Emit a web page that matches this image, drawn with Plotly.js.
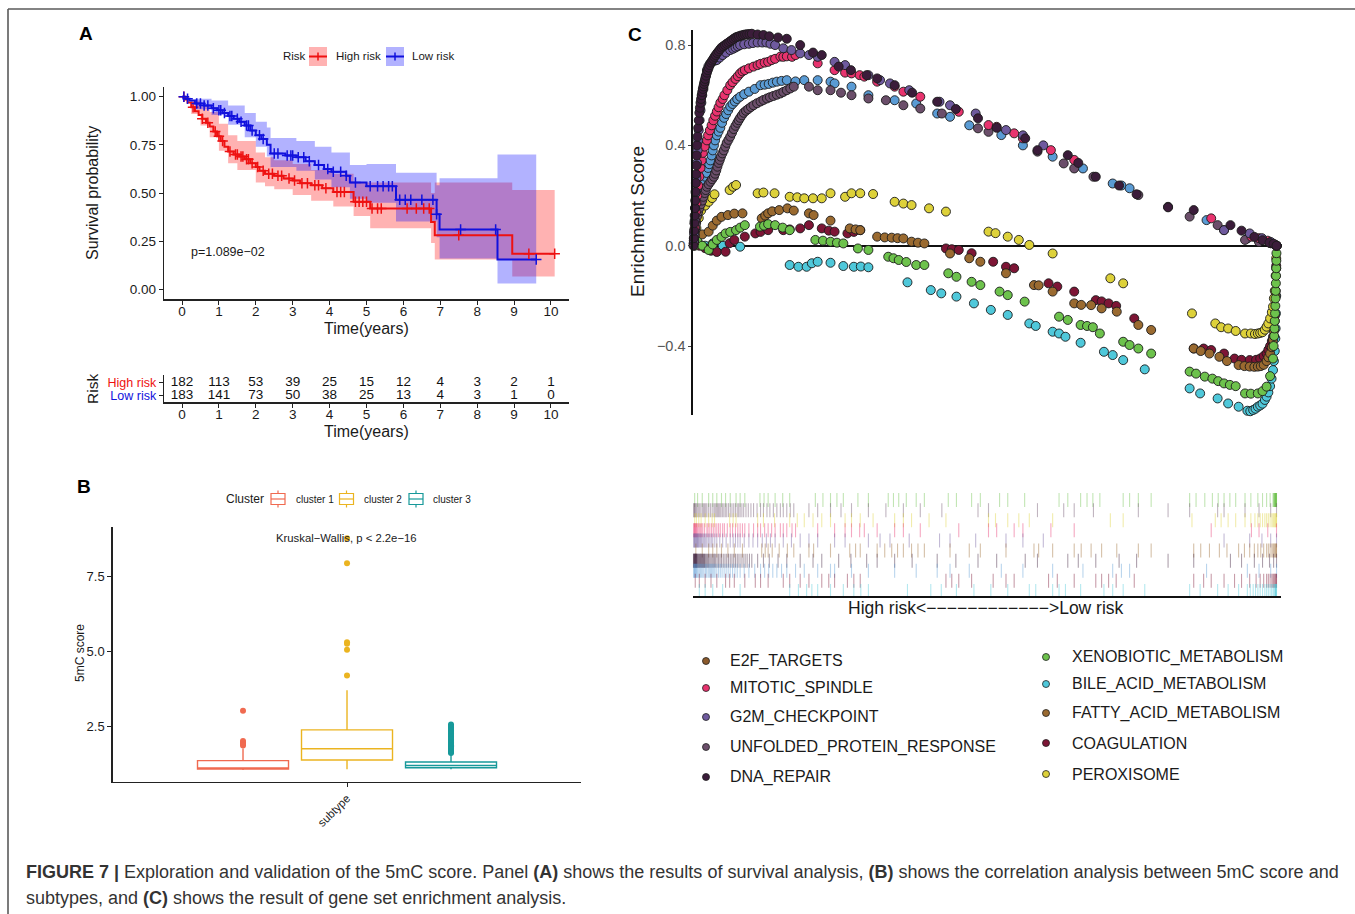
<!DOCTYPE html>
<html>
<head>
<meta charset="utf-8">
<script src="https://cdn.plot.ly/plotly-3.0.1.min.js"></script>
<style>
html,body{margin:0;padding:0;background:#ffffff;}
#chart{width:1355px;height:914px;}
</style>
</head>
<body>
<div id="chart"></div>
<script>
// ===================== DATA =====================
// ---- Panel A : Kaplan-Meier (step change points) ----
const highTime = [0,0.08,0.15,0.25,0.35,0.45,0.55,0.65,0.75,0.85,0.95,1.05,1.15,1.25,1.4,1.55,1.7,1.85,2.0,2.1,2.25,2.5,2.75,3.0,3.2,3.5,3.8,4.1,4.65,5.1,6.75,6.85,8.95];
const highSurv = [1.0,0.985,0.97,0.945,0.925,0.905,0.885,0.865,0.845,0.82,0.795,0.77,0.74,0.715,0.70,0.69,0.675,0.655,0.635,0.615,0.60,0.59,0.575,0.565,0.55,0.54,0.525,0.505,0.455,0.42,0.35,0.28,0.185];
const highEnd = 10.1;
const highCiTime  = [0,0.25,0.5,0.75,1.0,1.25,1.5,2.0,2.25,2.5,3.0,3.5,4.1,4.65,5.1,6.75,6.85,8.95];
const highCiLower = [1.0,0.91,0.85,0.79,0.72,0.655,0.62,0.555,0.535,0.52,0.49,0.46,0.43,0.38,0.317,0.24,0.155,0.066];
const highCiUpper = [1.0,0.98,0.95,0.92,0.86,0.80,0.77,0.71,0.685,0.67,0.65,0.62,0.60,0.555,0.555,0.50,0.555,0.515];
const highCensor = [0.05,0.3,0.55,0.7,0.9,1.0,1.1,1.3,1.45,1.5,1.6,1.65,1.75,1.8,1.9,2.05,2.2,2.35,2.45,2.6,2.7,2.9,3.05,3.25,3.4,3.6,3.7,3.9,4.2,4.3,4.4,4.7,4.8,4.9,5.0,5.15,5.3,5.4,6.1,6.35,6.55,6.7,7.5,9.4,10.1];

const lowTime = [0,0.1,0.2,0.35,0.6,0.8,0.95,1.1,1.25,1.4,1.55,1.7,1.85,2.0,2.15,2.3,2.4,2.8,3.1,3.35,3.6,3.85,4.05,4.45,4.55,5.0,5.8,6.9,6.98,8.55];
const lowSurv = [1.0,0.99,0.98,0.965,0.955,0.94,0.93,0.915,0.90,0.885,0.87,0.85,0.825,0.80,0.78,0.75,0.705,0.695,0.685,0.665,0.645,0.625,0.61,0.59,0.555,0.535,0.465,0.39,0.31,0.155];
const lowEnd = 9.6;
const lowCiTime  = [0,0.35,0.8,1.25,1.7,2.0,2.3,2.4,3.1,3.6,4.05,4.55,5.0,5.8,6.9,6.98,8.55];
const lowCiLower = [1.0,0.935,0.905,0.855,0.79,0.74,0.69,0.635,0.615,0.57,0.53,0.47,0.45,0.352,0.27,0.16,0.03];
const lowCiUpper = [1.0,0.99,0.98,0.955,0.915,0.87,0.84,0.785,0.77,0.74,0.71,0.645,0.65,0.605,0.54,0.576,0.70];
const lowCensor = [0.05,0.15,0.4,0.5,0.6,0.7,0.85,1.0,1.05,1.15,1.3,1.35,1.5,1.6,1.75,1.8,1.9,2.1,2.2,2.5,2.6,2.85,2.95,3.0,3.15,3.3,3.45,3.7,3.95,4.1,4.3,4.45,4.7,5.1,5.3,5.45,5.6,5.7,5.9,6.05,6.2,6.5,6.8,6.9,7.55,8.5,9.6];
const pValueText = "p=1.089e\u221202";

// ---- Panel A : risk table ----
const riskTimes = [0,1,2,3,4,5,6,7,8,9,10];
const highAtRisk = [182,113,53,39,25,15,12,4,3,2,1];
const lowAtRisk  = [183,141,73,50,38,25,13,4,3,1,0];
const timeTicks = [0,1,2,3,4,5,6,7,8,9,10];

// ---- Panel B : 5mC score by cluster ----
const clusterNames = ["cluster 1","cluster 2","cluster 3"];
const boxLower  = [1.03, 1.05, 1.05];
const boxQ1     = [1.06, 1.36, 1.105];
const boxMedian = [1.10, 1.74, 1.18];
const boxQ3     = [1.34, 2.37, 1.295];
const boxUpper  = [1.75, 3.70, 1.585];
const outliers1 = [3.01, 2.0, 1.95, 1.9, 1.85];
const outliers2 = [8.78, 7.95, 5.3, 5.25, 5.05, 4.19];
const outliers3 = [1.6,1.63,1.66,1.7,1.74,1.78,1.82,1.86,1.9,1.95,2.0,2.05,2.1,2.15,2.2,2.25,2.3,2.35,2.4,2.45,2.5,2.55];
const kwText = "Kruskal\u2212Wallis, p < 2.2e\u221216";

// ---- Panel C : GSEA running enrichment scores (rank in % of gene list) ----
const dnaRank = [0,0.05,0.1,0.15,0.2,0.25,0.3,0.35,0.4,0.45,0.5,0.55,0.6,0.7,0.8,0.9,1.0,1.1,1.2,1.3,1.4,1.5,1.6,1.7,1.8,1.9,2.0,2.15,2.3,2.45,2.6,2.8,3.0,3.2,3.4,3.6,3.8,4.05,4.3,4.55,4.8,5.1,5.4,5.7,6.0,6.3,6.6,6.9,7.2,7.5,7.8,8.15,8.5,8.85,9.2,9.6,10,11,12,13,14.5,16,18.3,20.5,22,24.9,27,29.7,31.5,34.5,37.5,41.8,45,48.8,52,56.9,59,64.2,66,69,73,76,81.4,85.8,92.1,94,96.2,97.6,98.8,99.5,100];
const dnaES   = [0,0.03,0.06,0.09,0.12,0.15,0.18,0.215,0.25,0.285,0.32,0.36,0.40,0.435,0.47,0.50,0.53,0.55,0.57,0.585,0.60,0.613,0.625,0.635,0.645,0.655,0.665,0.678,0.69,0.70,0.71,0.72,0.73,0.738,0.745,0.753,0.76,0.768,0.775,0.783,0.79,0.795,0.80,0.805,0.81,0.815,0.82,0.825,0.83,0.833,0.835,0.838,0.84,0.842,0.843,0.844,0.845,0.842,0.84,0.835,0.83,0.825,0.80,0.77,0.76,0.714,0.70,0.68,0.667,0.64,0.61,0.574,0.545,0.508,0.47,0.428,0.381,0.361,0.33,0.275,0.24,0.205,0.153,0.142,0.082,0.06,0.035,0.022,0.012,0.008,0];

const mitRank = [0.05,0.1,0.2,0.3,0.4,0.5,0.65,0.8,1.0,1.2,1.4,1.6,1.9,2.3,2.5,2.8,3.1,3.4,3.7,4.0,4.3,4.6,5.0,5.3,5.8,6.3,6.7,7.2,7.6,8.0,8.4,8.8,9.5,10.3,11.0,11.5,12.2,12.8,13.4,14.0,14.9,15.4,16.0,16.9,17.5,21.3,24.2,26.0,27.1,28.5,29.3,31.5,34.5,36,38.9,45.5,50.6,52.0,55,56.5,61.3,65.3,88.8,95.7,97,98.5,100];
const mitES   = [0.01,0.03,0.07,0.10,0.135,0.17,0.20,0.24,0.275,0.31,0.34,0.37,0.395,0.42,0.44,0.46,0.48,0.50,0.518,0.535,0.552,0.57,0.585,0.60,0.62,0.64,0.652,0.665,0.676,0.687,0.695,0.70,0.707,0.714,0.72,0.725,0.73,0.733,0.74,0.745,0.754,0.753,0.755,0.753,0.76,0.727,0.70,0.69,0.687,0.68,0.674,0.654,0.634,0.614,0.594,0.534,0.481,0.474,0.448,0.428,0.381,0.342,0.109,0.036,0.03,0.02,0];

const g2mRank = [0.05,0.1,0.2,0.3,0.4,0.5,0.6,0.7,0.8,0.9,1.05,1.2,1.35,1.5,1.7,1.9,2.1,2.3,2.55,2.8,3.05,3.3,3.65,4.0,4.5,5.0,5.6,6.3,6.8,7.2,7.6,8.0,8.7,9.5,10.2,11,11.8,12.5,13.2,14,15.4,16.8,18.3,19.8,21.3,24.2,26,30,32,33.7,37,42.2,44,48.4,53.6,56.5,60,91,95.4,97.5,99,100];
const g2mES   = [0.02,0.05,0.10,0.15,0.21,0.27,0.33,0.38,0.42,0.46,0.50,0.54,0.57,0.60,0.625,0.65,0.675,0.70,0.715,0.725,0.73,0.735,0.738,0.74,0.75,0.76,0.77,0.78,0.785,0.79,0.795,0.80,0.803,0.805,0.808,0.81,0.81,0.81,0.805,0.80,0.787,0.78,0.767,0.76,0.753,0.733,0.72,0.68,0.66,0.647,0.62,0.574,0.56,0.527,0.461,0.44,0.40,0.062,0.049,0.03,0.015,0];

const uprRank = [0.05,0.1,0.2,0.3,0.45,0.6,0.8,1.0,1.25,1.5,1.7,1.9,2.1,2.3,2.6,2.9,3.2,3.5,3.7,3.9,4.1,4.3,4.5,4.7,4.95,5.2,5.45,5.7,6.0,6.3,6.6,6.9,7.2,7.5,7.75,8.0,8.3,8.6,9.0,9.4,9.85,10.3,10.9,11.5,12.0,12.6,13.1,13.7,14.3,14.9,15.4,16.0,16.6,17.2,19.8,21.3,23.5,25.3,27.1,30,33,36,38.9,42.6,48.8,50.6,59,63.5,65.3,68.6,76.3,81.4,85.1,89.9,91,94.6,97,99,100];
const uprES   = [0.01,0.02,0.04,0.06,0.09,0.116,0.135,0.15,0.165,0.18,0.195,0.21,0.222,0.235,0.245,0.255,0.265,0.275,0.287,0.30,0.315,0.33,0.342,0.355,0.368,0.38,0.395,0.41,0.422,0.435,0.45,0.465,0.478,0.49,0.50,0.51,0.52,0.53,0.538,0.545,0.553,0.56,0.568,0.575,0.581,0.587,0.592,0.597,0.602,0.607,0.613,0.62,0.627,0.634,0.634,0.62,0.62,0.61,0.60,0.587,0.58,0.56,0.547,0.527,0.468,0.454,0.375,0.328,0.308,0.275,0.202,0.155,0.116,0.082,0.062,0.023,0.015,0.01,0];

const e2fRank = [0.05,0.1,0.2,0.3,0.4,0.5,0.65,0.8,1.0,1.2,1.4,1.6,1.8,2.05,2.25,2.5,2.7,2.9,3.1,3.3,3.5,3.7,4.0,4.3,4.6,4.9,5.25,5.6,5.95,6.3,6.7,7.1,7.5,8.0,8.7,9.5,10.5,11.5,12.2,12.9,13.6,14.3,15.1,16.0,17.5,19,21.3,23.5,24.2,27.1,30,34.5,38.2,41.8,44,47.3,52.8,56.5,61.6,66.8,71.9,73.4,74.8,88,95,97,99,100];
const e2fES   = [0.01,0.02,0.045,0.07,0.095,0.12,0.145,0.17,0.185,0.195,0.215,0.24,0.26,0.275,0.29,0.31,0.325,0.34,0.36,0.38,0.40,0.42,0.44,0.455,0.47,0.49,0.51,0.525,0.54,0.555,0.565,0.575,0.585,0.594,0.604,0.614,0.625,0.64,0.642,0.645,0.65,0.654,0.657,0.66,0.655,0.66,0.66,0.654,0.647,0.634,0.60,0.58,0.567,0.527,0.514,0.48,0.441,0.40,0.355,0.308,0.248,0.24,0.229,0.102,0.029,0.02,0.01,0];

const perRank = [0.2,0.5,0.9,1.3,2.0,2.6,3.2,3.6,6.2,6.8,7.3,11,12,13.9,16.5,17.8,19,20.5,22,23.5,26,27.1,28.6,30.8,34.5,36,37.4,40.4,43.3,50.6,51.8,53.9,55.8,57.6,61.6,71.5,73.7,85.5,89.5,90.5,91.7,93,94.6,95.6,96.3,96.8,97.2,97.6,98.0,98.3,98.6,98.9,99.2,99.4,99.55,99.7,99.85,99.95,100];
const perES   = [0.03,0.07,0.11,0.14,0.16,0.175,0.19,0.205,0.222,0.235,0.242,0.209,0.212,0.209,0.195,0.193,0.189,0.189,0.189,0.209,0.195,0.209,0.209,0.206,0.175,0.168,0.162,0.149,0.136,0.056,0.05,0.036,0.023,0.003,-0.031,-0.13,-0.15,-0.27,-0.31,-0.325,-0.33,-0.34,-0.35,-0.35,-0.352,-0.35,-0.348,-0.345,-0.335,-0.323,-0.31,-0.29,-0.265,-0.243,-0.21,-0.18,-0.12,-0.05,0];

const coaRank = [0.3,1.0,2.0,3.0,4.0,5.5,6.2,7.0,8.8,10.6,11.5,12.8,15.4,16.5,18.3,19.8,22,23.2,24.2,26.4,27.5,28.6,43.3,44.3,45.5,47.7,51.4,53.6,55,60.9,62.4,65.3,69,70,71.2,72.5,75.6,85.8,87.5,88.8,91,92.8,94,95.4,96.5,97.2,97.8,98.3,98.6,98.9,99.2,99.4,99.55,99.7,99.85,99.95,100];
const coaES   = [0.01,0.0,-0.01,-0.02,-0.025,-0.024,0.01,0.023,0.036,0.049,0.055,0.062,0.062,0.065,0.069,0.082,0.069,0.06,0.056,0.049,0.055,0.062,-0.011,-0.014,-0.017,-0.03,-0.064,-0.084,-0.09,-0.15,-0.163,-0.183,-0.217,-0.222,-0.23,-0.24,-0.29,-0.41,-0.41,-0.416,-0.43,-0.45,-0.455,-0.456,-0.455,-0.45,-0.44,-0.43,-0.415,-0.40,-0.38,-0.363,-0.33,-0.28,-0.18,-0.08,0];

const fatRank = [0.4,1.5,2.6,3.3,4.0,4.8,5.9,7.0,8.4,11.7,12.3,12.8,13.5,14.7,16.1,17.2,19.8,20.6,23.5,26.8,27.8,28.6,31.5,32.8,34,35,36,37.4,38.5,39.6,44,47.3,49.2,53.6,58.4,59.2,61.6,65.3,66.5,68.2,70,72.6,76.3,78.5,85.8,87,88.5,90.2,91.5,93.5,94.5,95.4,96.2,96.8,97.3,97.8,98.3,98.6,98.9,99.2,99.4,99.55,99.7,99.85,99.95,100];
const fatES   = [0.05,0.045,0.056,0.08,0.10,0.115,0.122,0.128,0.129,0.109,0.12,0.129,0.137,0.142,0.149,0.14,0.129,0.122,0.10,0.069,0.065,0.062,0.036,0.033,0.032,0.03,0.029,0.016,0.012,0.009,-0.031,-0.05,-0.064,-0.11,-0.157,-0.158,-0.183,-0.23,-0.236,-0.237,-0.25,-0.263,-0.316,-0.336,-0.41,-0.42,-0.43,-0.443,-0.46,-0.476,-0.48,-0.482,-0.483,-0.482,-0.48,-0.475,-0.46,-0.445,-0.43,-0.405,-0.376,-0.34,-0.3,-0.2,-0.09,0];

const xenRank = [0.2,0.7,1.5,2.6,3.3,4.0,4.8,5.5,6.3,7.3,8.0,8.8,11.4,12.1,12.8,14,15.3,16.5,20.9,22.2,23.5,24.6,25.7,28.2,30,33.4,34.3,35.2,36.5,38.2,39.6,43.7,45.1,47.7,49.2,52.5,53.9,56.8,62.7,64.2,66.4,67.5,68.5,69.7,73.7,74.8,76.3,78.5,85.1,86.2,87.7,89,90,91,92,93,94.6,95.6,96.8,97.6,98.3,98.9,99.4,99.5,99.6,99.65,99.7,99.75,99.8,99.83,99.86,99.89,99.92,99.95,99.97,99.99,100];
const xenES   = [0.0,0.016,0.0,-0.017,0.005,0.023,0.035,0.049,0.055,0.062,0.072,0.082,0.076,0.08,0.086,0.082,0.072,0.062,0.023,0.02,0.016,0.012,0.009,-0.011,-0.017,-0.044,-0.05,-0.057,-0.065,-0.077,-0.077,-0.11,-0.124,-0.144,-0.157,-0.183,-0.197,-0.223,-0.283,-0.296,-0.316,-0.32,-0.325,-0.35,-0.383,-0.396,-0.41,-0.43,-0.502,-0.51,-0.522,-0.53,-0.54,-0.549,-0.555,-0.56,-0.589,-0.59,-0.589,-0.58,-0.562,-0.52,-0.45,-0.40,-0.36,-0.33,-0.30,-0.27,-0.24,-0.21,-0.18,-0.15,-0.12,-0.09,-0.06,-0.03,0];

const bilRank = [1.0,2.0,3.3,5.0,8.0,16.5,18,19.4,20.3,21.3,23.5,25.7,27.5,28.7,30,36.7,40.7,42.5,45.1,48.1,51,53.9,57.6,58.7,61.6,62.7,63.8,66.4,70.4,71.9,73.7,77.4,85.1,86.9,89.9,91.7,93.5,95,95.5,96,96.4,96.8,97.2,97.6,98.0,98.3,98.6,98.9,99.15,99.4,99.55,99.7,99.8,99.85,99.9,99.95,100];
const bilES   = [0.005,0.0,0.009,0.0,-0.004,-0.077,-0.084,-0.084,-0.07,-0.064,-0.068,-0.081,-0.084,-0.083,-0.086,-0.146,-0.177,-0.19,-0.203,-0.23,-0.256,-0.276,-0.31,-0.32,-0.343,-0.35,-0.363,-0.387,-0.423,-0.436,-0.456,-0.493,-0.569,-0.589,-0.609,-0.629,-0.642,-0.658,-0.66,-0.655,-0.65,-0.642,-0.637,-0.63,-0.615,-0.602,-0.585,-0.56,-0.53,-0.496,-0.46,-0.42,-0.37,-0.33,-0.27,-0.2,0];

// gene-set names, colours as drawn in the legend
const legendLeftNames  = ["E2F_TARGETS","MITOTIC_SPINDLE","G2M_CHECKPOINT","UNFOLDED_PROTEIN_RESPONSE","DNA_REPAIR"];
const legendRightNames = ["XENOBIOTIC_METABOLISM","BILE_ACID_METABOLISM","FATTY_ACID_METABOLISM","COAGULATION","PEROXISOME"];
const legendLeftColors  = ["#8B5A2B","#E8336E","#6F5A9E","#6B4E6A","#3B1C3A"];
const legendRightColors = ["#6DC24C","#4FC8DA","#9A6A30","#7D1535","#DDD13A"];
const gseaAxisText = "High risk<\u2212\u2212\u2212\u2212\u2212\u2212\u2212\u2212\u2212\u2212\u2212\u2212>Low risk";

// ===================== LAYOUT HELPERS =====================
const W = 1355, H = 914;
const px = x => x / W;
const py = y => 1 - y / H;
const domX = (a, b) => [px(a), px(b)];
const domY = (top, bottom) => [py(bottom), py(top)];
const FONT = "Liberation Sans, Arial, Helvetica, sans-serif";

// gene-set series with colour and barcode row (top -> bottom)
const gsea = [
  {name:"XENOBIOTIC_METABOLISM", r:xenRank, es:xenES, color:"#6DC24C", row:0},
  {name:"UNFOLDED_PROTEIN_RESPONSE", r:uprRank, es:uprES, color:"#6B4E6A", row:1},
  {name:"PEROXISOME", r:perRank, es:perES, color:"#DDD13A", row:2},
  {name:"MITOTIC_SPINDLE", r:mitRank, es:mitES, color:"#E8336E", row:3},
  {name:"G2M_CHECKPOINT", r:g2mRank, es:g2mES, color:"#6F5A9E", row:4},
  {name:"FATTY_ACID_METABOLISM", r:fatRank, es:fatES, color:"#9A6A30", row:5},
  {name:"DNA_REPAIR", r:dnaRank, es:dnaES, color:"#3B1C3A", row:6},
  {name:"E2F_TARGETS", r:e2fRank, es:e2fES, color:"#5A9BD4", row:7},
  {name:"COAGULATION", r:coaRank, es:coaES, color:"#7D1535", row:8},
  {name:"BILE_ACID_METABOLISM", r:bilRank, es:bilES, color:"#4FC8DA", row:9}
];
function hexA(hex, a){
  const n = parseInt(hex.slice(1),16);
  return `rgba(${(n>>16)&255},${(n>>8)&255},${n&255},${a})`;
}
function stepX(t, end){ return t.concat([end]); }
function stepY(v){ return v.concat([v[v.length-1]]); }
function survAt(t, v, x){ let s = v[0]; for(let i=0;i<t.length;i++){ if(t[i] <= x) s = v[i]; } return s; }

const traces = [];
// ---- Panel A traces ----
function kmBand(t, lo, up, end, fill){
  traces.push({type:"scatter", mode:"lines", x:stepX(t,end), y:stepY(lo), line:{shape:"hv", width:0, color:fill}, xaxis:"x", yaxis:"y", hoverinfo:"skip"});
  traces.push({type:"scatter", mode:"lines", x:stepX(t,end), y:stepY(up), line:{shape:"hv", width:0, color:fill}, fill:"tonexty", fillcolor:fill, xaxis:"x", yaxis:"y", hoverinfo:"skip"});
}
kmBand(highCiTime, highCiLower, highCiUpper, highEnd, "rgba(255,0,0,0.3)");
kmBand(lowCiTime, lowCiLower, lowCiUpper, lowEnd, "rgba(0,0,255,0.3)");
traces.push({type:"scatter", mode:"lines", name:"High risk", x:stepX(highTime,highEnd), y:stepY(highSurv), line:{shape:"hv", width:2, color:"#EE1111"}, xaxis:"x", yaxis:"y"});
traces.push({type:"scatter", mode:"lines", name:"Low risk", x:stepX(lowTime,lowEnd), y:stepY(lowSurv), line:{shape:"hv", width:2, color:"#1111DD"}, xaxis:"x", yaxis:"y"});
traces.push({type:"scatter", mode:"markers", x:highCensor, y:highCensor.map(c=>survAt(highTime,highSurv,c)), marker:{symbol:"cross-thin", size:7.5, line:{width:1.5, color:"#EE1111"}}, xaxis:"x", yaxis:"y", cliponaxis:false});
traces.push({type:"scatter", mode:"markers", x:lowCensor, y:lowCensor.map(c=>survAt(lowTime,lowSurv,c)), marker:{symbol:"cross-thin", size:7.5, line:{width:1.5, color:"#1111DD"}}, xaxis:"x", yaxis:"y", cliponaxis:false});

// ---- risk table ----
traces.push({type:"scatter", mode:"text", x:riskTimes, y:riskTimes.map(()=>1), text:highAtRisk.map(String), textfont:{size:13.5, color:"#111", family:FONT}, xaxis:"x2", yaxis:"y2", cliponaxis:false});
traces.push({type:"scatter", mode:"text", x:riskTimes, y:riskTimes.map(()=>0), text:lowAtRisk.map(String), textfont:{size:13.5, color:"#111", family:FONT}, xaxis:"x2", yaxis:"y2", cliponaxis:false});

// ---- Panel B traces ----
const clusterColors = ["#F06A50","#EBB420","#17999A"];
const clusterPos = [-1, 0, 1];
const outlierSets = [outliers1, outliers2, outliers3];
for(let i=0;i<3;i++){
  traces.push({type:"box", name:clusterNames[i], x:[clusterPos[i]], q1:[boxQ1[i]], median:[boxMedian[i]], q3:[boxQ3[i]], lowerfence:[boxLower[i]], upperfence:[boxUpper[i]], width:0.875, whiskerwidth:0, fillcolor:"#ffffff", line:{color:clusterColors[i], width:1.4}, boxpoints:false, xaxis:"x3", yaxis:"y3", hoverinfo:"skip"});
  traces.push({type:"scatter", mode:"markers", x:outlierSets[i].map(()=>clusterPos[i]), y:outlierSets[i], marker:{size:6, color:clusterColors[i]}, xaxis:"x3", yaxis:"y3", cliponaxis:false});
}

// ---- Panel C : running ES ----
const esOrder = [9,8,5,2,0,7,1,3,4,6]; // bile, coag, fatty, perox, xeno, e2f, upr, mitotic, g2m, dna
esOrder.forEach(k=>{
  const g = gsea[k];
  traces.push({type:"scatter", mode:"markers", name:g.name, x:g.r, y:g.es, marker:{size:9, color:g.color, line:{width:0.9, color:"#1b1b1b"}}, xaxis:"x4", yaxis:"y4", cliponaxis:false});
});
// ---- barcode ----
gsea.forEach(g=>{
  traces.push({type:"scatter", mode:"markers", x:g.r, y:g.r.map(()=>g.row), marker:{symbol:"line-ns", size:10, line:{width:1.1, color:hexA(g.color,0.42)}}, xaxis:"x5", yaxis:"y5", cliponaxis:false, hoverinfo:"skip"});
});
// ---- legend dots of panel C (aux axes spanning the legend region, pixel units) ----
const legLeftX = 706, legRightX = 1046, legTextGap = 22;
const legLeftY = [661, 688, 717, 747, 777];
const legRightY = [657, 684, 713, 743, 774];
traces.push({type:"scatter", mode:"markers", x:legLeftY.map(()=>legLeftX).concat(legRightY.map(()=>legRightX)), y:legLeftY.concat(legRightY), marker:{size:7, color:legendLeftColors.concat(legendRightColors), line:{width:0.8, color:"#222"}}, xaxis:"x6", yaxis:"y6", cliponaxis:false, hoverinfo:"skip"});

// ===================== LAYOUT =====================
const axBase = {showgrid:false, zeroline:false, showline:true, linecolor:"#222", linewidth:1.3, ticks:"outside", ticklen:4, tickcolor:"#222", tickfont:{family:FONT, size:13.5, color:"#1a1a1a"}, fixedrange:true};
const layout = {
  width:W, height:H, margin:{l:0,r:0,t:0,b:0}, paper_bgcolor:"#ffffff", plot_bgcolor:"rgba(0,0,0,0)",
  showlegend:false, font:{family:FONT, color:"#1a1a1a"},
  xaxis: Object.assign({}, axBase, {domain:domX(164,569), range:[-0.488,10.488], tickvals:timeTicks, ticklabelstandoff:-5, anchor:"y"}),
  yaxis: Object.assign({}, axBase, {domain:domY(86.7,299.3), range:[-0.052,1.052], tickvals:[0,0.25,0.5,0.75,1], ticktext:["0.00","0.25","0.50","0.75","1.00"], anchor:"x"}),
  xaxis2: Object.assign({}, axBase, {domain:domX(164,569), range:[-0.488,10.488], tickvals:timeTicks, ticklabelstandoff:-5, anchor:"y2"}),
  yaxis2: Object.assign({}, axBase, {domain:domY(375,402.3), range:[-0.49,1.61], tickvals:[0,1], ticktext:['<span style="color:#1111DD">Low risk</span>','<span style="color:#EE1111">High risk</span>'], tickfont:{family:FONT, size:12.5}, anchor:"x2"}),
  xaxis3: Object.assign({}, axBase, {domain:domX(112.6,580.8), range:[-2.254,2.248], tickvals:[0], ticktext:["subtype"], tickangle:-45, tickfont:{family:FONT, size:11.5, color:"#1a1a1a"}, anchor:"y3"}),
  yaxis3: Object.assign({}, axBase, {domain:domY(526.7,781.7), range:[0.636,9.17], tickvals:[2.5,5,7.5], ticktext:["2.5","5.0","7.5"], tickfont:{family:FONT, size:13, color:"#1a1a1a"}, anchor:"x3"}),
  xaxis4: {domain:domX(693,1281), range:[-0.086,100.77], visible:false, fixedrange:true, anchor:"y4"},
  yaxis4: {domain:domY(30,415), range:[-0.675,0.86], showgrid:false, showline:true, linecolor:"#111", linewidth:1.6, zeroline:true, zerolinecolor:"#111", zerolinewidth:1.6, ticks:"outside", ticklen:3, tickcolor:"#444", tickvals:[-0.4,0,0.4,0.8], ticktext:["\u22120.4","0.0","0.4","0.8"], tickfont:{family:FONT, size:14.5, color:"#555"}, fixedrange:true, anchor:"x4"},
  xaxis5: {domain:domX(693,1281), range:[-0.086,100.77], showgrid:false, zeroline:false, showline:true, linecolor:"#111", linewidth:2.2, showticklabels:false, ticks:"", fixedrange:true, anchor:"y5"},
  yaxis5: {domain:domY(495,596), range:[9.5,-0.5], visible:false, fixedrange:true, anchor:"x5"},
  xaxis6: {domain:domX(680,1300), range:[680,1300], visible:false, fixedrange:true, anchor:"y6"},
  yaxis6: {domain:domY(640,790), range:[790,640], visible:false, fixedrange:true, anchor:"x6"},
  annotations:[], shapes:[]
};

function ann(text, x, y, opt){
  layout.annotations.push(Object.assign({text:text, x:px(x), y:py(y), xref:"paper", yref:"paper", showarrow:false, xanchor:"center", yanchor:"middle", font:{family:FONT, size:14, color:"#1a1a1a"}}, opt||{}));
}
// panel letters
ann("<b>A</b>", 86, 34, {font:{family:FONT, size:19, color:"#000"}});
ann("<b>B</b>", 84, 487, {font:{family:FONT, size:19, color:"#000"}});
ann("<b>C</b>", 635, 35, {font:{family:FONT, size:19, color:"#000"}});
// Panel A texts
ann("Survival probability", 92, 193, {textangle:-90, font:{family:FONT, size:16, color:"#1a1a1a"}});
ann("Time(years)", 366.5, 328.5, {font:{family:FONT, size:16, color:"#1a1a1a"}});
ann(pValueText, 189, 251.5, {xanchor:"left", font:{family:FONT, size:12.5, color:"#1a1a1a"}});
ann("Risk", 281, 56.5, {xanchor:"left", font:{family:FONT, size:11.5, color:"#1a1a1a"}});
ann("High risk", 334, 56.5, {xanchor:"left", font:{family:FONT, size:11.5, color:"#1a1a1a"}});
ann("Low risk", 410, 56.5, {xanchor:"left", font:{family:FONT, size:11.5, color:"#1a1a1a"}});
ann("Risk", 92, 389, {textangle:-90, font:{family:FONT, size:15.5, color:"#1a1a1a"}});
ann("Time(years)", 366.5, 431, {font:{family:FONT, size:16, color:"#1a1a1a"}});
// Panel B texts
ann("Cluster", 224, 499, {xanchor:"left", font:{family:FONT, size:12, color:"#1a1a1a"}});
ann("cluster 1", 293.5, 499, {xanchor:"left", font:{family:FONT, size:10, color:"#1a1a1a"}});
ann("cluster 2", 362, 499, {xanchor:"left", font:{family:FONT, size:10, color:"#1a1a1a"}});
ann("cluster 3", 431, 499, {xanchor:"left", font:{family:FONT, size:10, color:"#1a1a1a"}});
ann(kwText, 347, 538, {font:{family:FONT, size:11.3, color:"#1a1a1a"}});
ann("5mC score", 80, 653, {textangle:-90, font:{family:FONT, size:12, color:"#1a1a1a"}});
// Panel C texts
ann("Enrichment Score", 637, 222, {textangle:-90, font:{family:FONT, size:19, color:"#1a1a1a"}});
ann(gseaAxisText, 985.5, 608, {font:{family:FONT, size:17.5, color:"#1a1a1a"}});
legendLeftNames.forEach((n,i)=>ann(n, legLeftX+legTextGap, legLeftY[i], {xanchor:"left", font:{family:FONT, size:16, color:"#1a1a1a"}}));
legendRightNames.forEach((n,i)=>ann(n, legRightX+legTextGap+2, legRightY[i], {xanchor:"left", font:{family:FONT, size:16, color:"#1a1a1a"}}));
// caption
ann("<b>FIGURE 7 |</b> Exploration and validation of the 5mC score. Panel <b>(A)</b> shows the results of survival analysis, <b>(B)</b> shows the correlation analysis between 5mC score and", 24, 872, {xanchor:"left", font:{family:FONT, size:18, color:"#333"}});
ann("subtypes, and <b>(C)</b> shows the result of gene set enrichment analysis.", 24, 898, {xanchor:"left", font:{family:FONT, size:18, color:"#333"}});

// shapes: frame + legend keys
function shp(o){ layout.shapes.push(Object.assign({xref:"paper", yref:"paper"}, o)); }
function line(x0,y0,x1,y1,color,w){ shp({type:"line", x0:px(x0), y0:py(y0), x1:px(x1), y1:py(y1), line:{color:color, width:w}}); }
function rect(x0,y0,x1,y1,fill,color,w){ shp({type:"rect", x0:px(x0), y0:py(y0), x1:px(x1), y1:py(y1), fillcolor:fill, line:{color:color||"rgba(0,0,0,0)", width:w||0}}); }
line(8,9,1355,9,"#5a5a5a",1.6);
line(8,9,8,914,"#5a5a5a",1.6);
// Panel A legend keys
[[309,"rgba(255,0,0,0.3)","#EE1111"],[386,"rgba(0,0,255,0.3)","#1111DD"]].forEach(k=>{
  rect(k[0],47,k[0]+18,66,k[1]);
  line(k[0],56.5,k[0]+18,56.5,k[2],2);
  line(k[0]+9,52.5,k[0]+9,60.5,k[2],1.5);
});
// Panel B legend keys
[[271,clusterColors[0]],[339.5,clusterColors[1]],[409,clusterColors[2]]].forEach(k=>{
  rect(k[0],493.5,k[0]+14,504.5,"#ffffff",k[1],1.2);
  line(k[0],499,k[0]+14,499,k[1],1.2);
  line(k[0]+7,490.5,k[0]+7,493.5,k[1],1.2);
  line(k[0]+7,504.5,k[0]+7,507.5,k[1],1.2);
});

Plotly.newPlot("chart", traces, layout, {displayModeBar:false, staticPlot:true});
</script>
</body>
</html>
